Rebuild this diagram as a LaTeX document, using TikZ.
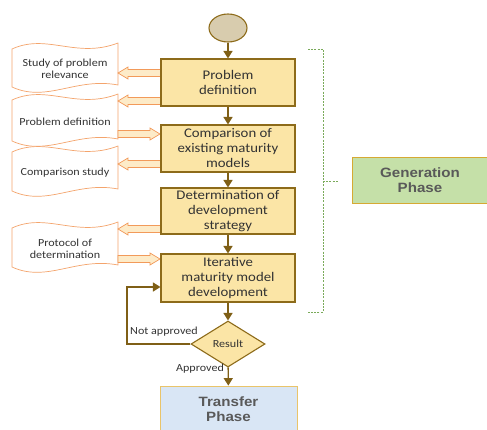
\documentclass[tikz,border=0pt]{standalone}
\usepackage{fontspec}
\setmainfont{Carlito}
\newfontfamily\boxfont[FakeStretch=1.12]{Carlito}
\newfontfamily\phasefont[FakeStretch=1.12]{Liberation Sans}
\usetikzlibrary{arrows.meta,shapes.geometric}
\definecolor{boxfill}{HTML}{FBE5A6}
\definecolor{boxline}{HTML}{8D6B1A}
\definecolor{brownarr}{HTML}{7F5F16}
\definecolor{startfill}{HTML}{D8CCAE}
\definecolor{docline}{HTML}{F4A46C}
\definecolor{barline}{HTML}{F29A5A}
\definecolor{barfill}{HTML}{FDEBC8}
\definecolor{genfill}{HTML}{C5E0A8}
\definecolor{genline}{HTML}{D6A933}
\definecolor{trfill}{HTML}{D9E6F5}
\definecolor{trline}{HTML}{E9C46A}
\definecolor{brack}{HTML}{7AAA5A}
\definecolor{txt}{HTML}{333333}
\definecolor{phtxt}{HTML}{595959}
\tikzset{
  stepbox/.style={draw=boxline, fill=boxfill, line width=1.1pt, minimum width=134pt,
    align=center, inner sep=0pt, text=txt, font=\boxfont\fontsize{13.2}{15}\selectfont},
  flow/.style={draw=brownarr, line width=1.4pt, -{Triangle[length=7.5pt,width=9pt]}},
  docpath/.style={draw=docline, line width=0.7pt, fill=white},
  doctext/.style={align=center, text=txt, inner sep=0pt, font=\boxfont\fontsize{10.8}{12}\selectfont},
  barrowstyle/.style={draw=barline, fill=barfill, line width=0.7pt},
  lbl/.style={text=txt, inner sep=0pt, font=\boxfont\fontsize{10.8}{12}\selectfont},
  phasebox/.style={line width=0.8pt, align=center, inner sep=0pt, text=phtxt,
    font=\phasefont\bfseries\fontsize{13.5}{15}\selectfont},
  brackline/.style={draw=brack, line width=0.6pt, dash pattern=on 2pt off 1.2pt}
}
\newcommand\barrowL[3]{% tail x, tip x, y
  \draw[barrowstyle] (#1,{#3-3.5}) -- ({#2+10},{#3-3.5}) -- ({#2+10},{#3-6}) -- (#2,#3)
    -- ({#2+10},{#3+6}) -- ({#2+10},{#3+3.5}) -- (#1,{#3+3.5}) -- cycle;}
\newcommand\barrowR[3]{% tail x, tip x, y
  \draw[barrowstyle] (#1,{#3-3.5}) -- ({#2-10},{#3-3.5}) -- ({#2-10},{#3-6}) -- (#2,#3)
    -- ({#2-10},{#3+6}) -- ({#2-10},{#3+3.5}) -- (#1,{#3+3.5}) -- cycle;}
\newcommand\docshape[4]{% name, top y, bottom y, text
  \draw[docpath] (12,#2) .. controls (47,{#2-16}) and (76,{#2+10}) .. (118,{#2-6})
    -- (118,{#3-2}) .. controls (76,{#3-10}) and (47,{#3+16}) .. (12,#3) -- cycle;
  \node[doctext] (#1) at (65,{(#2+#3)/2+1}) {#4};}
\begin{document}
\begin{tikzpicture}[x=1pt,y=-1pt]
\useasboundingbox (0,0) rectangle (487,429);
\clip (0,0) rectangle (487,429);
% documents
\docshape{d1}{49}{87}{Study of problem\\relevance}
\docshape{d2}{100}{141}{Problem definition}
\docshape{d3}{152}{191}{Comparison study}
\docshape{d4}{228}{267}{Protocol of\\determination}
% block arrows
\barrowL{163}{118}{73}
\barrowL{163}{118}{101}
\barrowR{118}{160}{134}
\barrowL{163}{118}{164}
\barrowL{163}{118}{229}
\barrowR{118}{160}{259}
% process
\node[ellipse, draw=boxline, fill=startfill, line width=1.1pt, minimum width=38pt, minimum height=28pt, inner sep=0pt] (start) at (228,28) {};
\node[stepbox, minimum height=47pt] (pd) at (228,82.5) {Problem\\definition};
\node[stepbox, minimum height=47pt] (cm) at (228,148.5) {Comparison of\\existing maturity\\models};
\node[stepbox, minimum height=46pt] (dd) at (228,211) {Determination of\\development\\strategy};
\node[stepbox, minimum height=48pt] (it) at (228,278) {Iterative\\maturity model\\development};
\node[diamond, draw=boxline, fill=boxfill, line width=1.1pt, aspect=1.6, minimum width=74pt, minimum height=46pt, inner sep=0pt, text=txt, font=\boxfont\fontsize{10.8}{12}\selectfont] (res) at (228,344) {Result};
\node[phasebox, draw=trline, fill=trfill, minimum width=137pt, minimum height=46pt] (tr) at (228.5,409) {Transfer\\Phase};
\node[phasebox, draw=genline, fill=genfill, minimum width=136pt, minimum height=46pt] (gen) at (420,180) {Generation\\Phase};
% flow
\draw[flow] (start) -- (pd);
\draw[flow] (pd) -- (cm);
\draw[flow] (cm) -- (dd);
\draw[flow] (dd) -- (it);
\draw[flow] (it) -- (res);
\draw[flow] (res) -- (tr);
\draw[flow] (res.west) -- (127,344) |- ([yshift=-9pt]it.west);
\node[lbl] (na) at (164,332) {Not approved};
\node[lbl] (ap) at (200,369) {Approved};
% bracket
\coordinate (bt) at (323,49);
\coordinate (bb) at (323,312);
\coordinate (bm) at (323,181);
\draw[brackline] ([xshift=-15pt]bt) -- (bt) -- (bb) -- ([xshift=-15pt]bb);
\draw[brackline] (bm) -- ([xshift=15pt]bm);
\end{tikzpicture}
\end{document}
